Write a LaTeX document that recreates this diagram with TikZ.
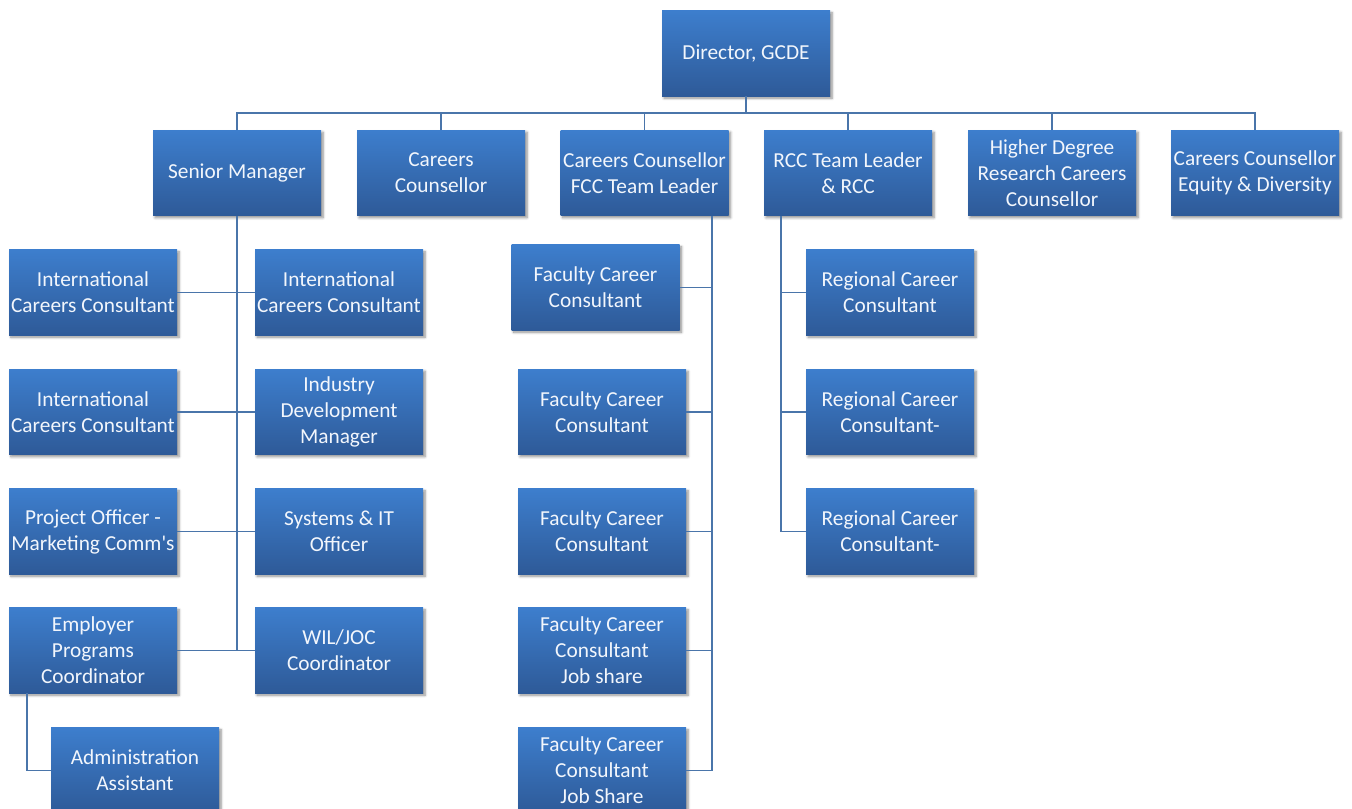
\documentclass[tikz,border=0pt]{standalone}
\usepackage{fontspec}
\setmainfont{Carlito}
\usetikzlibrary{positioning,shadows.blur}
\definecolor{boxtop}{RGB}{61,126,205}
\definecolor{boxbottom}{RGB}{46,90,152}
\definecolor{linkblue}{RGB}{74,117,170}
\definecolor{boxtext}{RGB}{242,246,252}

\begin{document}
\begin{tikzpicture}[x=0.75pt,y=-0.75pt,
  box/.style={rectangle,top color=boxtop,bottom color=boxbottom,text=boxtext,
    minimum width=126pt,minimum height=64pt,align=center,inner sep=1pt,
    font=\fontsize{16}{19.5}\selectfont,
    blur shadow={shadow xshift=1.5pt,shadow yshift=-1.5pt,shadow opacity=45,shadow blur steps=6}},
  link/.style={draw=linkblue,line width=1.4pt}]
\useasboundingbox (0,0) rectangle (1352,809);

% top
\node[box] (dir) at (746,53.5) {Director, GCDE};
\coordinate (bus) at (746,113);

% first level
\node[box] (sm) at (237,173) {Senior Manager};
\node[box] (cc) at (441,173) {Careers\\Counsellor};
\node[box] (fcc) at (644.5,173) {Careers Counsellor\\FCC Team Leader};
\node[box] (rcc) at (848,173) {RCC Team Leader\\\& RCC};
\node[box] (hdr) at (1052,173) {Higher Degree\\Research Careers\\Counsellor};
\node[box] (ed) at (1255,173) {Careers Counsellor\\Equity \& Diversity};

% senior manager team
\node[box] (icca) at (93,292.5) {International\\Careers Consultant};
\node[box] (iccb) at (93,412) {International\\Careers Consultant};
\node[box] (poff) at (93,531.5) {Project Officer -\\Marketing Comm\textquotesingle s};
\node[box] (epc) at (93,650.5) {Employer\\Programs\\Coordinator};
\node[box] (iccc) at (339,292.5) {International\\Careers Consultant};
\node[box] (idm) at (339,412) {Industry\\Development\\Manager};
\node[box] (sit) at (339,531.5) {Systems \& IT\\Officer};
\node[box] (wil) at (339,650.5) {WIL/JOC\\Coordinator};
\node[box] (admin) at (135,770.5) {Administration\\Assistant};

% faculty career consultants
\node[box] (fcc1) at (595.5,287.5) {Faculty Career\\Consultant};
\node[box] (fcc2) at (602,412) {Faculty Career\\Consultant};
\node[box] (fcc3) at (602,531.5) {Faculty Career\\Consultant};
\node[box] (fcc4) at (602,650.5) {Faculty Career\\Consultant\\Job share};
\node[box] (fcc5) at (602,770.5) {Faculty Career\\Consultant\\Job Share};

% regional consultants
\node[box] (rc1) at (890,292.5) {Regional Career\\Consultant};
\node[box] (rc2) at (890,412) {Regional Career\\Consultant-};
\node[box] (rc3) at (890,531.5) {Regional Career\\Consultant-};

% connectors
\draw[link] (dir.south) -- (bus);
\draw[link] (sm.north) |- (bus) -| (ed.north);
\foreach \n in {cc,fcc,rcc,hdr}
  \draw[link] (\n.north) -- (\n.north |- bus);

\draw[link] (sm.south) -- (sm.south |- epc.east);
\draw[link] (icca.east) -- (iccc.west);
\draw[link] (iccb.east) -- (idm.west);
\draw[link] (poff.east) -- (sit.west);
\draw[link] (epc.east) -- (wil.west);
\draw[link] ([xshift=13.5pt]epc.south west) |- (admin.west);

\coordinate (ftrunk) at ([xshift=-12.75pt]fcc.south east);
\draw[link] (ftrunk) |- (fcc5.east);
\foreach \n in {1,...,4}
  \draw[link] (fcc\n.east) -- (fcc\n.east -| ftrunk);

\coordinate (rtrunk) at ([xshift=12.75pt]rcc.south west);
\draw[link] (rtrunk) |- (rc3.west);
\foreach \n in {1,2}
  \draw[link] (rc\n.west) -- (rc\n.west -| rtrunk);
\end{tikzpicture}
\end{document}
